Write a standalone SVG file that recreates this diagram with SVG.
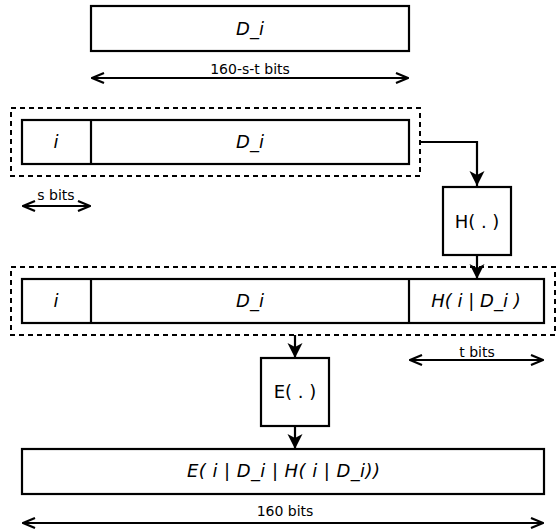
<svg xmlns="http://www.w3.org/2000/svg" width="557" height="531" viewBox="0 0 557 531">
<style>
.box{fill:#fff;stroke:#000;stroke-width:2.2}
.dash{fill:none;stroke:#000;stroke-width:2;stroke-dasharray:5,4}
.lbl{font-family:"DejaVu Sans",sans-serif;font-size:18px;font-style:italic;text-anchor:middle;fill:#000}
.fn{font-family:"DejaVu Sans",sans-serif;font-size:18px;text-anchor:middle;fill:#000}
.dim{font-family:"DejaVu Sans",sans-serif;font-size:14px;text-anchor:middle;fill:#000}
.line{fill:none;stroke:#000;stroke-width:2.2}
</style>
<defs>
<marker id="open" viewBox="0 0 14 12" refX="13" refY="6" markerWidth="14" markerHeight="12" markerUnits="userSpaceOnUse" orient="auto-start-reverse">
<path d="M1,1 L13,6 L1,11" fill="none" stroke="#000" stroke-width="2.2"/>
</marker>
<marker id="fill" viewBox="0 0 16 16" refX="15" refY="8" markerWidth="16" markerHeight="16" markerUnits="userSpaceOnUse" orient="auto">
<path d="M0,0.5 L15,8 L0,15.5 L4,8 Z" fill="#000"/>
</marker>
</defs>
<g id="connectors">
<path class="line" d="M421,142 H477 V186" marker-end="url(#fill)"/>
<path class="line" d="M477,256 V279" marker-end="url(#fill)"/>
<path class="line" d="M295,335 V358" marker-end="url(#fill)"/>
<path class="line" d="M295,426 V449" marker-end="url(#fill)"/>
</g>
<g id="top-di">
<rect class="box" x="91" y="6" width="318" height="45"/>
<text class="lbl" x="250" y="35">D_i</text>
</g>
<g id="dim-160st">
<path class="line" d="M92,78 H408" marker-start="url(#open)" marker-end="url(#open)"/>
<text class="dim" x="250" y="74">160-s-t bits</text>
</g>
<g id="block1">
<rect class="dash" x="11" y="108" width="409" height="68"/>
<rect class="box" x="22" y="120" width="387" height="44"/>
<line class="line" x1="91" y1="120" x2="91" y2="164"/>
<text class="lbl" x="56" y="148">i</text>
<text class="lbl" x="250" y="148">D_i</text>
</g>
<g id="dim-s">
<path class="line" d="M23,206 H90" marker-start="url(#open)" marker-end="url(#open)"/>
<text class="dim" x="56" y="200">s bits</text>
</g>
<g id="hash">
<rect class="box" x="443" y="187" width="68" height="68"/>
<text class="fn" x="477" y="228">H( . )</text>
</g>
<g id="block2">
<rect class="dash" x="11" y="267" width="544" height="68"/>
<rect class="box" x="22" y="279" width="522" height="44"/>
<line class="line" x1="91" y1="279" x2="91" y2="323"/>
<line class="line" x1="409" y1="279" x2="409" y2="323"/>
<text class="lbl" x="56" y="307">i</text>
<text class="lbl" x="250" y="307">D_i</text>
<text class="lbl" x="476" y="307">H( i | D_i )</text>
</g>
<g id="dim-t">
<path class="line" d="M410,360 H543" marker-start="url(#open)" marker-end="url(#open)"/>
<text class="dim" x="477" y="357">t bits</text>
</g>
<g id="enc">
<rect class="box" x="261" y="358" width="68" height="68"/>
<text class="fn" x="295" y="398">E( . )</text>
</g>
<g id="result">
<rect class="box" x="22" y="449" width="522" height="45"/>
<text class="lbl" x="283.5" y="477" textLength="193" lengthAdjust="spacing">E( i | D_i | H( i | D_i))</text>
</g>
<g id="dim-160">
<path class="line" d="M23,523 H543" marker-start="url(#open)" marker-end="url(#open)"/>
<text class="dim" x="285" y="516">160 bits</text>
</g>
</svg>
